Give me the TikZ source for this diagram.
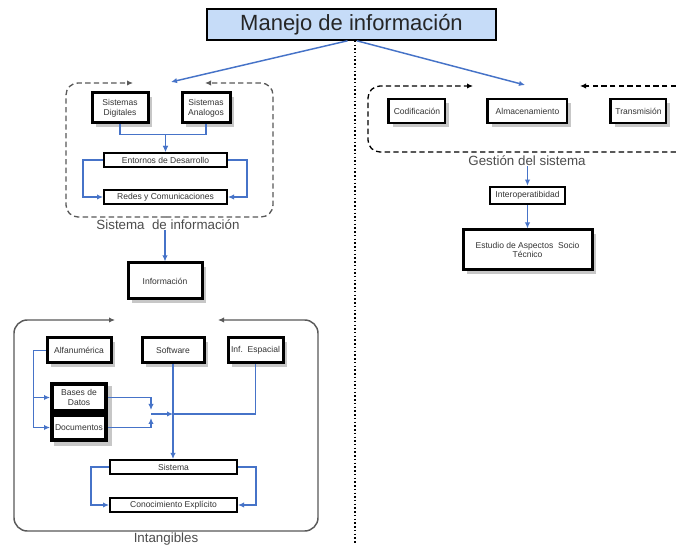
\documentclass[tikz,border=0pt]{standalone}
\usepackage{fontspec}
\setmainfont{Liberation Sans}
\usetikzlibrary{arrows.meta,shadows,calc}
\definecolor{linkblue}{RGB}{70,115,200}
\definecolor{titlefill}{RGB}{198,220,248}

\begin{document}
\begin{tikzpicture}[x=0.75pt,y=-0.75pt,
  every node/.style={font=\fontsize{6.4}{7.4}\selectfont, text=black!80, align=center, inner sep=0pt},
  shade box/.style={drop shadow={shadow xshift=3pt, shadow yshift=-3pt, fill=black!22, opacity=1}},
  heavybox/.style={draw=black, line width=2.25pt, fill=white, shade box},
  barbox/.style={draw=black, line width=1.5pt, fill=white},
  thinbox/.style={draw=black, line width=0.9pt, fill=white, shade box},
  stackbox/.style={draw=black, line width=3pt, fill=white},
  caption/.style={font=\fontsize{10}{12}\selectfont, text=black!70},
  link/.style={draw=linkblue, line width=1.1pt, -{Latex[length=4.5pt,width=4pt]}},
  plainlink/.style={draw=linkblue, line width=1.1pt},
  dashframe/.style={line width=1pt, dash pattern=on 4pt off 2.5pt, rounded corners=9pt, -{Latex[length=4.5pt,width=4pt]}},
  solidframe/.style={draw=black!65, line width=1.1pt, rounded corners=10pt, -{Latex[length=4.5pt,width=4pt]}}
]
\useasboundingbox[fill=white] (0,0) rectangle (676,545);

% title
\node[draw=black, line width=1.2pt, fill=titlefill, minimum width=216.75pt, minimum height=23.25pt,
      font=\fontsize{16.5}{18}\selectfont, text=black!85] (title) at (351.5,24.5) {Manejo de información};

\coordinate (tl) at (171,82);
\coordinate (tr) at (525,85);
\coordinate (dotend) at (0,545);
\draw[link] ([xshift=-3pt]title.south) -- (tl);
\draw[link] ([xshift=4pt]title.south) -- (tr);
\draw[line width=1.1pt, dash pattern=on 1.1pt off 1.7pt] ([xshift=2.6pt]title.south) -- ([xshift=2.6pt]title.south |- dotend);

% --- Sistema de informacion ---
\draw[dashframe, draw=black!65] (166,217) -| (66,83) -- (133,83);
\draw[dashframe, draw=black!65] (166,217) -| (273,83) -- (205,83);
\node[caption] (sislabel) at (168,225) {Sistema~~de información};

\node[heavybox, minimum width=42pt, minimum height=22.5pt] (dig) at (120,108) {Sistemas\\Digitales};
\node[heavybox, minimum width=36pt, minimum height=22.5pt] (ana) at (206,108) {Sistemas\\Analogos};
\node[barbox, minimum width=92.25pt, minimum height=10.5pt] (ent) at (165.5,160) {Entornos de Desarrollo};
\node[barbox, minimum width=92.25pt, minimum height=10pt] (red) at (165.5,197) {Redes y Comunicaciones};

\draw[link] (dig.south) -- ++(0,10) -| (ent.north);
\draw[link] (ana.south) -- ++(0,10) -| (ent.north);
\draw[link] (ent.west) -- ++(-20,0) |- (red.west);
\draw[link] (ent.east) -- ++(19,0) |- (red.east);

\node[heavybox, minimum width=55.5pt, minimum height=27pt] (info) at (165,281) {Información};
\draw[link] (info.north |- sislabel.south) -- (info.north);

% --- Gestion del sistema ---
\draw[dashframe, draw=black] (676,152) -| (368,86) -- (473,86);
\draw[dashframe, draw=black] (676,86) -- (580,86);
\node[caption] (ges) at (527,161) {Gestión del sistema};

\node[thinbox, minimum width=42pt, minimum height=18pt] (cod) at (417,111) {Codificación};
\node[thinbox, minimum width=59.25pt, minimum height=18pt] (alm) at (527.5,111) {Almacenamiento};
\node[thinbox, minimum width=41.25pt, minimum height=18pt] (tra) at (638.5,111) {Transmisión};
\foreach \b in {cod,alm,tra}
  \draw[line width=2.4pt] (\b.north west) -- (\b.south west);

\node[draw=black, line width=1.9pt, fill=white, minimum width=56.25pt, minimum height=12.75pt] (inter) at (527.5,195.5) {Interoperatibidad};
\node[heavybox, minimum width=96.75pt, minimum height=30pt] (est) at (527.5,250) {Estudio de Aspectos~~Socio\\Técnico};

\draw[link] (ges.south -| inter.north) -- (inter.north);
\draw[link] (inter.south) -- (est.north);

% --- Intangibles ---
\draw[solidframe] (166,531) -| (14,320) -- (115,320);
\draw[solidframe] (166,531) -| (318,320) -- (218,320);
\node[caption] (intlabel) at (166,539) {Intangibles};

\node[heavybox, minimum width=48pt, minimum height=18.75pt] (alf) at (79,350.5) {Alfanumérica};
\node[heavybox, minimum width=46.5pt, minimum height=18.75pt] (soft) at (173,350.5) {Software};
\node[heavybox, minimum width=41.25pt, minimum height=18.75pt] (inf) at (255.5,350.5) {Inf.~~Espacial};

\fill[black!22] (54,386) rectangle (112,446);
\node[stackbox, minimum width=40.5pt, minimum height=20.25pt] (bas) at (79,397.5) {Bases de\\Datos};
\node[stackbox, minimum width=40.5pt, minimum height=18.75pt] (doc) at (79,427.5) {Documentos};

\node[barbox, minimum width=95.25pt, minimum height=10.5pt] (sis) at (173.5,467) {Sistema};
\node[barbox, minimum width=95.25pt, minimum height=10.5pt] (con) at (173.5,505) {Conocimiento Explícito};

\coordinate (mrg) at (151,414);
\draw[link] (alf.west) -- ++(-12,0) |- (bas.west);
\draw[link] (alf.west) -- ++(-12,0) |- (doc.west);
\draw[link, shorten >=3pt] (bas.east) -| (mrg);
\draw[link, shorten >=3pt] (doc.east) -| (mrg);
\draw[link] (mrg) -- (mrg -| soft.south);
\draw[plainlink] (inf.south) |- (mrg -| soft.south);
\draw[link] (soft.south) -- (soft.south |- sis.north);
\draw[link] (sis.west) -- ++(-18,0) |- (con.west);
\draw[link] (sis.east) -- ++(18,0) |- (con.east);
\end{tikzpicture}
\end{document}
